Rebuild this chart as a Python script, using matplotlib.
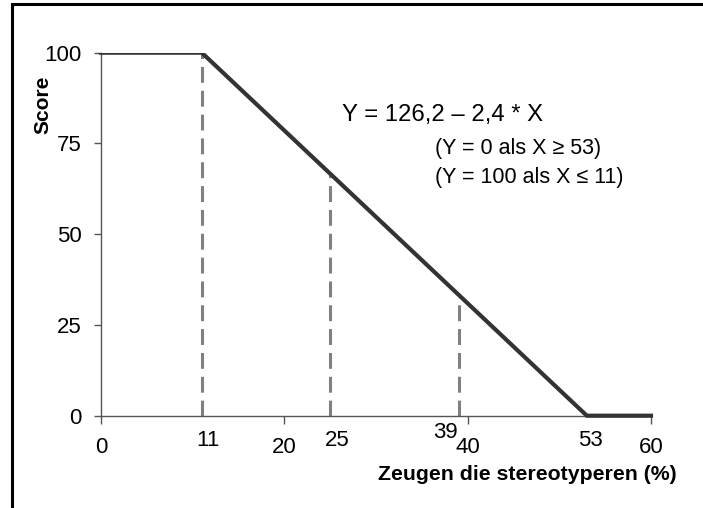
import matplotlib
matplotlib.use("Agg")
import matplotlib.pyplot as plt
from matplotlib.patches import Rectangle
from matplotlib.transforms import blended_transform_factory, offset_copy

plt.rcParams['font.family'] = ['Liberation Sans', 'DejaVu Sans']

# Data
line_x = [0, 11, 53, 60]
line_y = [100, 100, 0, 0]
marker_x = [11, 25, 39]
marker_y = [100, 66.2, 32.6]
major_xticks = [0, 20, 40, 60]
yticks = [0, 25, 50, 75, 100]
extra_labels = ['11', '25', '39', '53']
extra_pos = [11, 25, 39, 53]

fig = plt.figure(figsize=(7.03, 5.08), dpi=100)
ax = fig.add_axes([101/703, 1 - 415.7/508, 550/703, (415.7 - 52.7)/508])

# dashed gray guide lines
for xv, yv in zip(marker_x, marker_y):
    ax.plot([xv, xv], [0, yv], color='#808080', lw=2.2, dashes=(5.2, 2.6), zorder=2)

# main line
ln, = ax.plot(line_x, line_y, color='#333333', lw=3.0, solid_joinstyle='miter', zorder=3)
clip = Rectangle((-1, -10), 70, 110, transform=ax.transData)
ln.set_clip_path(clip)

ax.set_xlim(0, 60)
ax.set_ylim(0, 100)
ax.set_xticks(major_xticks)
ax.set_yticks(yticks)
ax.tick_params(axis='x', direction='out', length=6, width=1, color='#555555',
               labelsize=16, pad=9)
ax.tick_params(axis='y', direction='out', length=5, width=1, color='#555555',
               labelsize=16, pad=9)
for s in ['top', 'right']:
    ax.spines[s].set_visible(False)
for s in ['left', 'bottom']:
    ax.spines[s].set_color('#555555')
    ax.spines[s].set_linewidth(1)

# extra x labels (placed like text boxes, slightly above major labels)
blend = blended_transform_factory(ax.transData, fig.transFigure)
placements = [(6, 440), (7, 441), (-13, 432), (4, 440.5)]
for lab, xv, (dx, ypix) in zip(extra_labels, extra_pos, placements):
    tr = offset_copy(blend, fig=fig, x=dx, y=0, units='dots')
    ax.text(xv, 1 - ypix/508, lab, transform=tr, ha='center', va='center', fontsize=16)

ax.set_ylabel('Score', fontsize=15, fontweight='bold')
ax.yaxis.set_label_coords(52/703, 1 - 105/508, transform=fig.transFigure)
ax.set_xlabel('Zeugen die stereotyperen (%)', fontsize=15.3, fontweight='bold')
ax.xaxis.set_label_coords(677/703, 1 - 475/508, transform=fig.transFigure)
ax.xaxis.label.set_horizontalalignment('right')
ax.xaxis.label.set_verticalalignment('center')

fig.text(342/703, 1 - 115/508, 'Y = 126,2 – 2,4 * X', fontsize=17.2, ha='left', va='center')
fig.text(435/703, 1 - 149/508, '(Y = 0 als X ≥ 53)', fontsize=15.5, ha='left', va='center')
fig.text(435/703, 1 - 178/508, '(Y = 100 als X ≤ 11)', fontsize=15.5, ha='left', va='center')

# figure border
fig.patches.append(Rectangle((12/703, -0.1), 1.2, 1 - 4/508 + 0.1, transform=fig.transFigure,
                             fill=False, edgecolor='black', lw=2.2))

fig.savefig('out.png', dpi=100)
